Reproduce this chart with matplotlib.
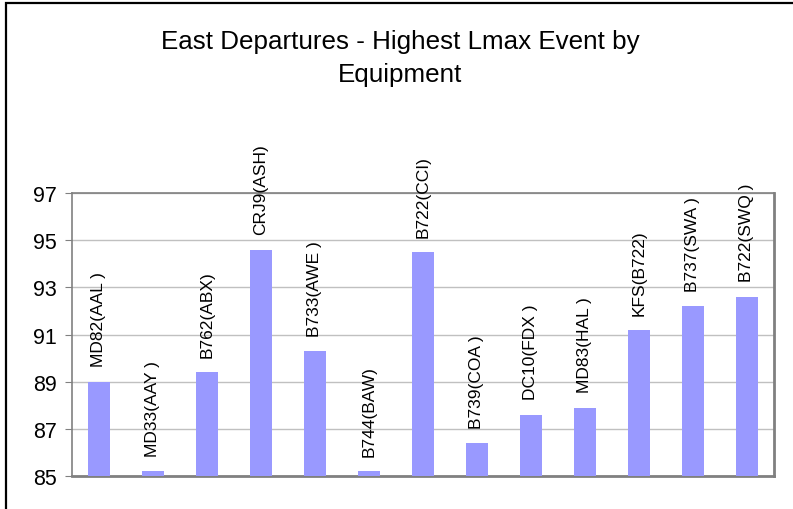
import matplotlib
matplotlib.use('Agg')
import matplotlib.pyplot as plt
from matplotlib.patches import Rectangle

# data
equipment=['MD82(AAL )','MD33(AAY )','B762(ABX)','CRJ9(ASH)','B733(AWE )','B744(BAW)',
           'B722(CCI)','B739(COA )','DC10(FDX )','MD83(HAL )','KFS(B722)','B737(SWA )','B722(SWQ )']
lmax=[89.0,85.2,89.4,94.6,90.3,85.2,94.5,86.4,87.6,87.9,91.2,92.2,92.6]
yticks=[85,87,89,91,93,95,97]

plt.rcParams['font.family']=['Liberation Sans','DejaVu Sans']

W,H=793,510
fig=plt.figure(figsize=(W/100,H/100),dpi=100)
ax=fig.add_axes([72/W,1-477/H,(774-72)/W,(477-194)/H])

x=list(range(len(lmax)))
ax.bar(x,[v-85 for v in lmax],bottom=85,width=0.39,color='#9999FF',zorder=3)
for xi,v,lab in zip(x,lmax,equipment):
    ax.annotate(lab,(xi,v),xytext=(0,11),textcoords='offset points',rotation=90,
                ha='center',va='bottom',fontsize=12.5,annotation_clip=False,zorder=4)

ax.set_xlim(-0.5,len(lmax)-0.5)
ax.set_ylim(85,97)
ax.set_yticks(yticks)
ax.set_xticks([])
ax.tick_params(axis='y',labelsize=15.5,length=5,color='#808080',pad=6)
ax.yaxis.grid(True,color='#C0C0C0',lw=1,zorder=0)
for side in ['top','left']:
    ax.spines[side].set_color('#808080'); ax.spines[side].set_linewidth(1.2)
for side in ['right','bottom']:
    ax.spines[side].set_color('#808080'); ax.spines[side].set_linewidth(2)

fig.text(0.505,1-42/H,'East Departures - Highest Lmax Event by',ha='center',va='center',fontsize=18.7)
fig.text(0.505,1-75/H,'Equipment',ha='center',va='center',fontsize=18.7)

# chart area border (left and top visible, rest cut off)
fig.add_artist(Rectangle((6/W,-0.1),1.2,(1-4/H)+0.1,transform=fig.transFigure,
                         fill=False,ec='black',lw=1.6))

fig.savefig('out.png',dpi=100)
